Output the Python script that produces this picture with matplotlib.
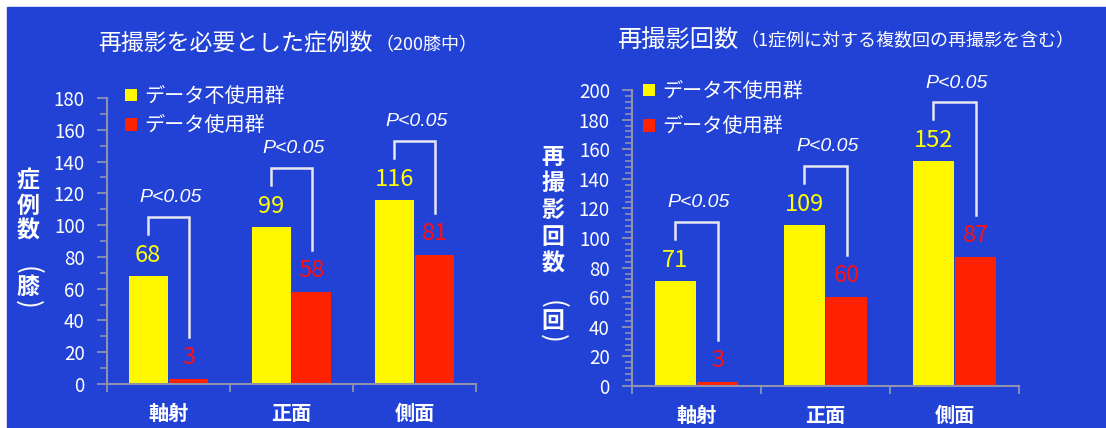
import numpy as np
import matplotlib
matplotlib.use("Agg")
import matplotlib.pyplot as plt
from matplotlib.patches import Rectangle
from matplotlib.ticker import MultipleLocator

plt.rcParams['font.family'] = ['Noto Sans CJK JP', 'DejaVu Sans']

# data
cats = ["軸射", "正面", "側面"]
series = ["データ不使用群", "データ使用群"]
cases_no = [68, 99, 116]     # 再撮影を必要とした症例数
cases_yes = [3, 58, 81]
shots_no = [71, 109, 152]    # 再撮影回数
shots_yes = [3, 60, 87]
p_text = "P<0.05"

BG = "#2242d6"
YEL = "#fff800"
RED = "#ff2200"
GREY = "#8e92ae"
W, H = 1106, 428

fig = plt.figure(figsize=(W / 100, H / 100), dpi=100, facecolor="white")
fig.add_artist(Rectangle((7 / W, 0), 1, 1 - 7 / H, transform=fig.transFigure,
                         color=BG, zorder=-10))


def ftext(x, y, s, **kw):
    # x, y in pixels from top-left
    return fig.text(x / W, 1 - y / H, s, color="white", **kw)


def panel(box, no, yes, ymax, minor, leg_xy, leg_gap):
    x0, y0, x1, y1 = box
    ax = fig.add_axes([x0 / W, 1 - y1 / H, (x1 - x0) / W, (y1 - y0) / H])
    ax.set_facecolor("none")
    x = np.arange(len(cats))
    bw = 0.32
    b1 = ax.bar(x - 0.165, no, bw, color=YEL, label=series[0])
    b2 = ax.bar(x + 0.165, yes, bw, color=RED, label=series[1])
    ax.set_xlim(-0.5, 2.5)
    ax.set_ylim(0, ymax)

    for s in ["top", "right"]:
        ax.spines[s].set_visible(False)
    for s in ["left", "bottom"]:
        ax.spines[s].set_color(GREY)
        ax.spines[s].set_linewidth(1.5)

    ax.yaxis.set_major_locator(MultipleLocator(20))
    ax.yaxis.set_minor_locator(MultipleLocator(minor))
    ax.tick_params(axis="y", which="major", length=7, width=1.3, color=GREY,
                   labelcolor="white", labelsize=13.5, pad=9)
    ax.tick_params(axis="y", which="minor", length=5, width=1.2, color=GREY)
    ax.set_xticks(x, cats)
    ax.set_xticks([-0.5, 0.5, 1.5, 2.5], minor=True)
    ax.tick_params(axis="x", which="major", length=0, pad=14,
                   labelcolor="white", labelsize=14.5)
    ax.tick_params(axis="x", which="minor", length=6, width=1.3, color=GREY)
    for lab in ax.get_xticklabels():
        lab.set_fontweight("bold")

    for xi, v in zip(x, no):
        ax.annotate(str(v), (xi - 0.165, v), xytext=(0, 14.5), textcoords="offset points",
                    ha="center", va="center", color="#ffff00", fontsize=17)
    for xi, v in zip(x, yes):
        ax.annotate(str(v), (xi + 0.165, v), xytext=(0, 15.5), textcoords="offset points",
                    ha="center", va="center", color="#ff1010", fontsize=17)

    # significance brackets
    unit = ymax / (y1 - y0)
    for xi, a, b in zip(x, no, yes):
        xl, xr = xi - 0.165, xi + 0.165
        yl = a + 42 * unit
        yt = yl + 17 * unit
        yr = b + 42 * unit
        ax.plot([xl, xl, xr, xr], [yl, yt, yt, yr], color="#e6e6ee", lw=1.8,
                clip_on=False, solid_joinstyle="miter")
        ax.text(xi + 0.02, yt + 19 * unit, p_text, ha="center", va="center",
                color="white", fontsize=14, style="italic",
                family=["Liberation Sans", "DejaVu Sans"])

    ax.legend(handles=[b1, b2], loc="upper left",
              bbox_to_anchor=(leg_xy[0] / W, 1 - leg_xy[1] / H),
              bbox_transform=fig.transFigure, frameon=False, fontsize=14.5,
              labelcolor="white", handlelength=0.6, handleheight=0.6,
              handletextpad=0.35, labelspacing=leg_gap, borderpad=0,
              borderaxespad=0)
    return ax


panel((107, 98, 476, 384), cases_no, cases_yes, 180, 10, (125, 86), 0.42)
panel((632, 90, 1019, 386), shots_no, shots_yes, 200, 4, (643, 81), 0.72)

# titles
ftext(98, 44, "再撮影を必要とした症例数", fontsize=16.5, ha="left", va="center")
ftext(375, 45, "（200膝中）", fontsize=13, ha="left", va="center")
ftext(617, 40, "再撮影回数", fontsize=17.5, ha="left", va="center")
ftext(740, 41, "（1症例に対する複数回の再撮影を含む）", fontsize=13, ha="left", va="center")

# vertical y-labels
for i, ch in enumerate("症例数"):
    ftext(28, 181 + i * 25, ch, fontsize=16.5, fontweight="bold", ha="center", va="center")
ftext(28, 270, "(", fontsize=19, rotation=-90, ha="center", va="center")
ftext(28, 287, "膝", fontsize=16.5, fontweight="bold", ha="center", va="center")
ftext(28, 304, ")", fontsize=19, rotation=-90, ha="center", va="center")

for i, ch in enumerate("再撮影回数"):
    ftext(553, 157 + i * 26.8, ch, fontsize=16.5, fontweight="bold", ha="center", va="center")
ftext(553, 304, "(", fontsize=19, rotation=-90, ha="center", va="center")
ftext(553, 321, "回", fontsize=16.5, fontweight="bold", ha="center", va="center")
ftext(553, 338, ")", fontsize=19, rotation=-90, ha="center", va="center")

fig.savefig("out.png", dpi=100, facecolor=fig.get_facecolor())
